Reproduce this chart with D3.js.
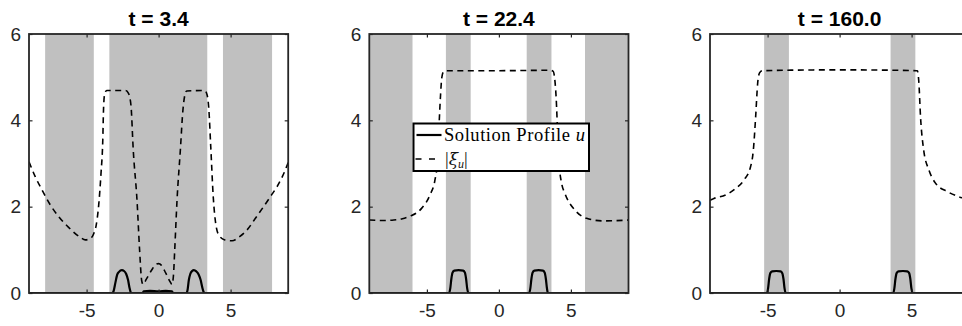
<!DOCTYPE html>
<html><head><meta charset="utf-8">
<script src="https://cdn.jsdelivr.net/npm/d3@7"></script>
<style>body{margin:0;background:#fff;overflow:hidden}</style>
</head><body><svg id="c" width="962" height="326"></svg>
<script>
// ---------------- data ----------------
const titles = ["t = 3.4", "t = 22.4", "t = 160.0"];
const xTicks = [-5, 0, 5];
const yTicks = [0, 2, 4, 6];
const xTickLabels = ["-5", "0", "5"];
const yTickLabels = ["0", "2", "4", "6"];
const xDomain = [-9, 9];
const yDomain = [0, 6];

// gray regions (x-intervals) per panel
const bands1 = [[-7.88, -4.5], [-3.42, 3.38], [4.47, 7.88]];
const bands2 = [[-9, -6.0], [-3.68, -1.96], [1.93, 3.65], [5.98, 9]];
const bands3 = [[-5.24, -3.52], [3.54, 5.26]];

// solution profile u
const u1 = [[-9,0],[-3.2,0],[-3.12,0.05],[-3.0,0.24],[-2.88,0.42],[-2.75,0.49],[-2.55,0.53],[-2.4,0.51],[-2.25,0.44],[-2.12,0.3],[-2.02,0.12],[-1.94,0.02],[-1.88,0],
            [-1.1,0],[-1.04,0.04],[-0.6,0.05],[0,0.04],[0.5,0.05],[0.93,0.04],[1.0,0],
            [1.94,0],[2.0,0.05],[2.1,0.3],[2.2,0.44],[2.33,0.51],[2.45,0.53],[2.62,0.5],[2.78,0.43],[2.92,0.3],[3.04,0.12],[3.12,0.03],[3.18,0],[9,0]];
const u2 = [[-9,0],[-3.46,0],[-3.38,0.1],[-3.3,0.33],[-3.22,0.47],[-3.1,0.52],[-2.8,0.53],[-2.48,0.52],[-2.36,0.47],[-2.28,0.33],[-2.2,0.1],[-2.12,0],
            [2.1,0],[2.18,0.1],[2.26,0.33],[2.34,0.47],[2.46,0.52],[2.76,0.53],[3.06,0.52],[3.18,0.47],[3.26,0.33],[3.34,0.1],[3.4,0],[9,0]];
const u3 = [[-9,0],[-5.04,0],[-4.97,0.1],[-4.89,0.33],[-4.81,0.46],[-4.68,0.5],[-4.4,0.51],[-4.1,0.5],[-3.98,0.46],[-3.9,0.33],[-3.82,0.1],[-3.75,0],
            [3.73,0],[3.8,0.1],[3.88,0.33],[3.96,0.46],[4.09,0.5],[4.4,0.51],[4.7,0.5],[4.83,0.46],[4.91,0.33],[4.99,0.1],[5.07,0],[9,0]];

// |xi_u|
const xi1 = [[-9,3.04],[-8.56,2.69],[-8.1,2.39],[-7.52,2.04],[-6.94,1.77],[-6.25,1.52],[-5.44,1.29],[-5.09,1.23],[-4.75,1.26],[-4.5,1.38],[-4.33,1.58],[-4.17,2.0],[-4.0,2.77],[-3.88,3.5],[-3.82,4.3],[-3.74,4.62],[-3.6,4.69],
             [-2.3,4.69],[-2.1,4.63],[-1.92,4.35],[-1.76,3.31],[-1.5,2.15],[-1.32,1.0],[-1.18,0.3],[-1.08,0.2],[-0.85,0.32],[-0.5,0.52],[-0.2,0.66],[0,0.68],[0.2,0.64],[0.5,0.46],[0.8,0.26],[0.93,0.2],
             [1.03,0.4],[1.12,1.0],[1.28,2.15],[1.51,3.31],[1.69,4.24],[1.82,4.58],[1.95,4.68],[3.2,4.69],[3.36,4.6],[3.48,4.3],[3.62,3.4],[3.8,2.2],[3.97,1.6],[4.2,1.33],[4.6,1.23],[5.1,1.21],[5.6,1.3],[6.14,1.46],[6.7,1.72],[7.29,2.0],[7.8,2.25],[8.22,2.46],[8.6,2.7],[9,3.02]];
const xi2 = [[-9,1.69],[-8,1.68],[-7.3,1.69],[-6.7,1.72],[-6.17,1.78],[-5.7,1.86],[-5.37,1.96],[-4.79,2.27],[-4.44,2.62],[-4.25,3.1],[-4.14,4.0],[-4.05,4.6],[-3.97,4.98],[-3.86,5.12],[-3.7,5.15],
             [0,5.15],[3.5,5.16],[3.76,5.14],[3.88,4.95],[3.98,4.5],[4.08,3.7],[4.2,2.93],[4.35,2.55],[4.58,2.31],[5.28,1.92],[6.09,1.73],[7.24,1.67],[9,1.69]];
const xi3 = [[-9,2.15],[-8.73,2.19],[-7.92,2.27],[-7.22,2.42],[-6.64,2.62],[-6.18,2.93],[-5.99,3.31],[-5.83,4.08],[-5.69,4.86],[-5.56,5.1],[-5.37,5.15],
             [0,5.17],[5.4,5.15],[5.5,4.9],[5.62,4.08],[5.84,3.31],[6.2,2.85],[6.67,2.54],[7.48,2.35],[8.28,2.23],[9,2.17]];

const bands = [bands1, bands2, bands3];
const uData = [u1, u2, u3];
const xiData = [xi1, xi2, xi3];
const legendLabels = ["Solution Profile ", "u"];

// ---------------- layout ----------------
const svg = d3.select("#c");
const lefts = [29, 369.3, 710];
const plotW = 259.2, plotTop = 34, plotBottom = 293;
const axisColor = "#262626";
const font = "'Liberation Sans', Arial, Helvetica, sans-serif";

lefts.forEach((L, i) => {
  const x = d3.scaleLinear().domain(xDomain).range([L, L + plotW]);
  const y = d3.scaleLinear().domain(yDomain).range([plotBottom, plotTop]);
  const g = svg.append("g");
  const clipId = "clip" + i;
  svg.append("clipPath").attr("id", clipId).append("rect")
    .attr("x", L).attr("y", plotTop).attr("width", plotW).attr("height", plotBottom - plotTop);

  // bands
  g.append("g").selectAll("rect").data(bands[i]).join("rect")
    .attr("x", d => x(d[0])).attr("width", d => x(d[1]) - x(d[0]))
    .attr("y", y(yDomain[1])).attr("height", y(yDomain[0]) - y(yDomain[1]))
    .attr("fill", "#c0c0c0");

  const line = d3.line().x(d => x(d[0])).y(d => y(d[1])).curve(d3.curveMonotoneX);
  g.append("path").attr("d", line(xiData[i])).attr("fill", "none")
    .attr("stroke", "#000").attr("stroke-width", 1.6).attr("stroke-dasharray", "6,4.5")
    .attr("clip-path", `url(#${clipId})`);
  g.append("path").attr("d", line(uData[i])).attr("fill", "none")
    .attr("stroke", "#000").attr("stroke-width", 2.2).attr("stroke-linejoin", "round")
    .attr("clip-path", `url(#${clipId})`);

  // axes
  const ax = (gen, tr, labels) => {
    const a = g.append("g").attr("transform", tr).call(gen);
    a.select(".domain").remove();
    a.selectAll(".tick line").attr("stroke", axisColor).attr("stroke-width", 1.2);
    a.selectAll("text").attr("fill", axisColor).style("font-family", font).style("font-size", "19px");
    if (!labels) a.selectAll("text").remove();
    return a;
  };
  ax(d3.axisBottom(x).tickValues(xTicks).tickSizeInner(-3.5).tickSizeOuter(0).tickPadding(11)
       .tickFormat((d, k) => xTickLabels[k]), `translate(0,${plotBottom})`, true);
  ax(d3.axisTop(x).tickValues(xTicks).tickSizeInner(-3.5).tickSizeOuter(0), `translate(0,${plotTop})`, false);
  ax(d3.axisLeft(y).tickValues(yTicks).tickSizeInner(-3.5).tickSizeOuter(0).tickPadding(8)
       .tickFormat((d, k) => yTickLabels[k]), `translate(${L},0)`, true);
  ax(d3.axisRight(y).tickValues(yTicks).tickSizeInner(-3.5).tickSizeOuter(0), `translate(${L + plotW},0)`, false);

  g.append("rect").attr("x", L).attr("y", plotTop).attr("width", plotW).attr("height", plotBottom - plotTop)
    .attr("fill", "none").attr("stroke", axisColor).attr("stroke-width", 1.8);

  g.append("text").attr("x", L + plotW / 2).attr("y", 26).attr("text-anchor", "middle")
    .style("font-family", font).style("font-weight", "bold").style("font-size", "21px")
    .attr("fill", "#000").text(titles[i]);
});

// legend (second panel)
const lg = svg.append("g");
const serif = "'Liberation Serif', 'Times New Roman', serif";
lg.append("rect").attr("x", 413.5).attr("y", 123.5).attr("width", 175.5).attr("height", 47.5)
  .attr("fill", "#fff").attr("stroke", "#000").attr("stroke-width", 2);
lg.append("line").attr("x1", 416.5).attr("x2", 441.5).attr("y1", 135).attr("y2", 135)
  .attr("stroke", "#000").attr("stroke-width", 2.2);
lg.append("line").attr("x1", 415.5).attr("x2", 442).attr("y1", 159).attr("y2", 159)
  .attr("stroke", "#000").attr("stroke-width", 1.6).attr("stroke-dasharray", "6,7.5");
const t1 = lg.append("text").attr("x", 444).attr("y", 141)
  .attr("textLength", 141).attr("lengthAdjust", "spacing")
  .style("font-family", serif).style("font-size", "18.5px").attr("fill", "#000");
t1.append("tspan").text(legendLabels[0]);
t1.append("tspan").style("font-style", "italic").text(legendLabels[1]);
const t2 = lg.append("text").attr("x", 445).attr("y", 165)
  .style("font-family", serif).style("font-size", "18.5px").attr("fill", "#111");
t2.append("tspan").text("|");
t2.append("tspan").style("font-style", "italic").style("font-family", "'DejaVu Serif', serif").style("font-size", "17px").text("ξ");
t2.append("tspan").style("font-style", "italic").style("font-size", "12px").attr("dy", 3).text("u");
t2.append("tspan").attr("dy", -3).text("|");
</script>
</body></html>
